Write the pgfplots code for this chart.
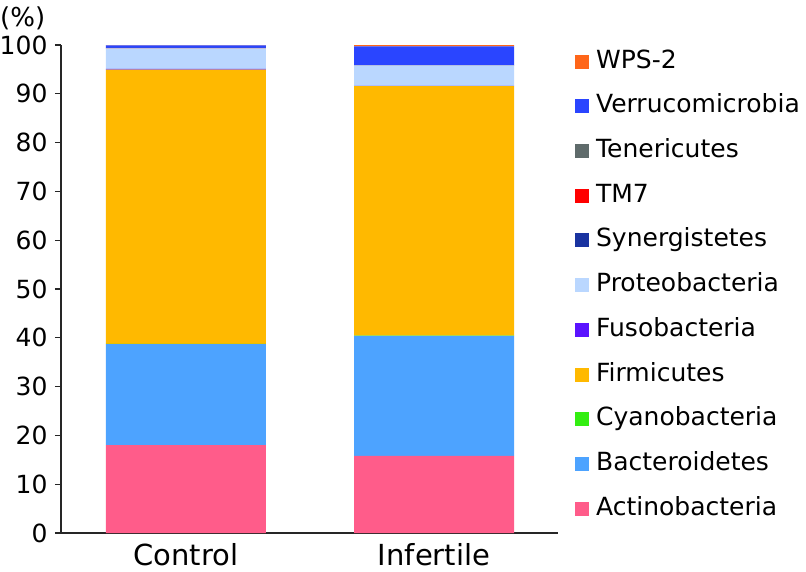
\documentclass[border=0pt]{standalone}
\usepackage{fontspec}
\setmainfont{DejaVu Sans}
\usepackage{pgfplots}
\pgfplotsset{compat=1.18}
\definecolor{cAct}{HTML}{FF5C8A}
\definecolor{cBac}{HTML}{4DA3FF}
\definecolor{cCya}{HTML}{33EE11}
\definecolor{cFir}{HTML}{FFB900}
\definecolor{cFus}{HTML}{5A13FF}
\definecolor{cPro}{HTML}{BAD7FF}
\definecolor{cSyn}{HTML}{1A33A0}
\definecolor{cTM}{HTML}{FF0000}
\definecolor{cTen}{HTML}{5F6B6B}
\definecolor{cVer}{HTML}{2A45FF}
\definecolor{cWPS}{HTML}{FF6619}
\begin{document}
\begin{tikzpicture}[x=1pt,y=1pt]
\useasboundingbox (0,0) rectangle (806,571);
\node[anchor=west, inner sep=0pt, font=\fontsize{26}{30}\selectfont] at (0,553) {(\%)};
\begin{axis}[
  at={(61pt,38pt)}, anchor=south west,
  scale only axis, width=497pt, height=488pt,
  xmin=-0.504, xmax=1.5, ymin=0, ymax=100,
  axis x line*=bottom, axis y line*=left,
  axis line style={-, line width=1.2pt, black!85},
  ybar stacked, bar width=160pt,
  every axis plot/.append style={draw=none},
  xtick={0,1}, xticklabels={Control,Infertile},
  x tick style={draw=none},
  xticklabel style={font=\fontsize{29}{34}\selectfont, yshift=-1pt},
  ytick={0,10,...,100},
  y tick style={line width=1.2pt, black!85},
  tick align=outside, major tick length=6pt,
  yticklabel style={font=\fontsize{25}{30}\selectfont, xshift=-4pt},
  /pgf/number format/assume math mode=true,
  reverse legend,
  legend cell align=left,
  legend image code/.code={\fill[#1] (0pt,-7pt) rectangle (14pt,7pt);},
  legend style={at={(rel axis cs:1.028,0.994)}, anchor=north west,
    draw=none, fill=none, font=\fontsize{25}{30}\selectfont,
    row sep=21.7pt, column sep=7pt,
    nodes={inner sep=0pt, text height=18pt, text depth=5pt}},
]
\addplot[fill=cAct] coordinates {(0,18.0) (1,15.8)};
\addplot[fill=cBac] coordinates {(0,20.7) (1,24.6)};
\addplot[fill=cCya] coordinates {(0,0.05) (1,0.05)};
\addplot[fill=cFir] coordinates {(0,56.2) (1,51.1)};
\addplot[fill=cFus] coordinates {(0,0.15) (1,0.05)};
\addplot[fill=cPro] coordinates {(0,4.2) (1,4.2)};
\addplot[fill=cSyn] coordinates {(0,0.02) (1,0.02)};
\addplot[fill=cTM] coordinates {(0,0.02) (1,0.02)};
\addplot[fill=cTen] coordinates {(0,0.06) (1,0.05)};
\addplot[fill=cVer] coordinates {(0,0.5) (1,3.85)};
\addplot[fill=cWPS] coordinates {(0,0.05) (1,0.25)};
\legend{Actinobacteria,Bacteroidetes,Cyanobacteria,Firmicutes,Fusobacteria,Proteobacteria,Synergistetes,TM7,Tenericutes,Verrucomicrobia,WPS-2}
\end{axis}
\end{tikzpicture}
\end{document}
